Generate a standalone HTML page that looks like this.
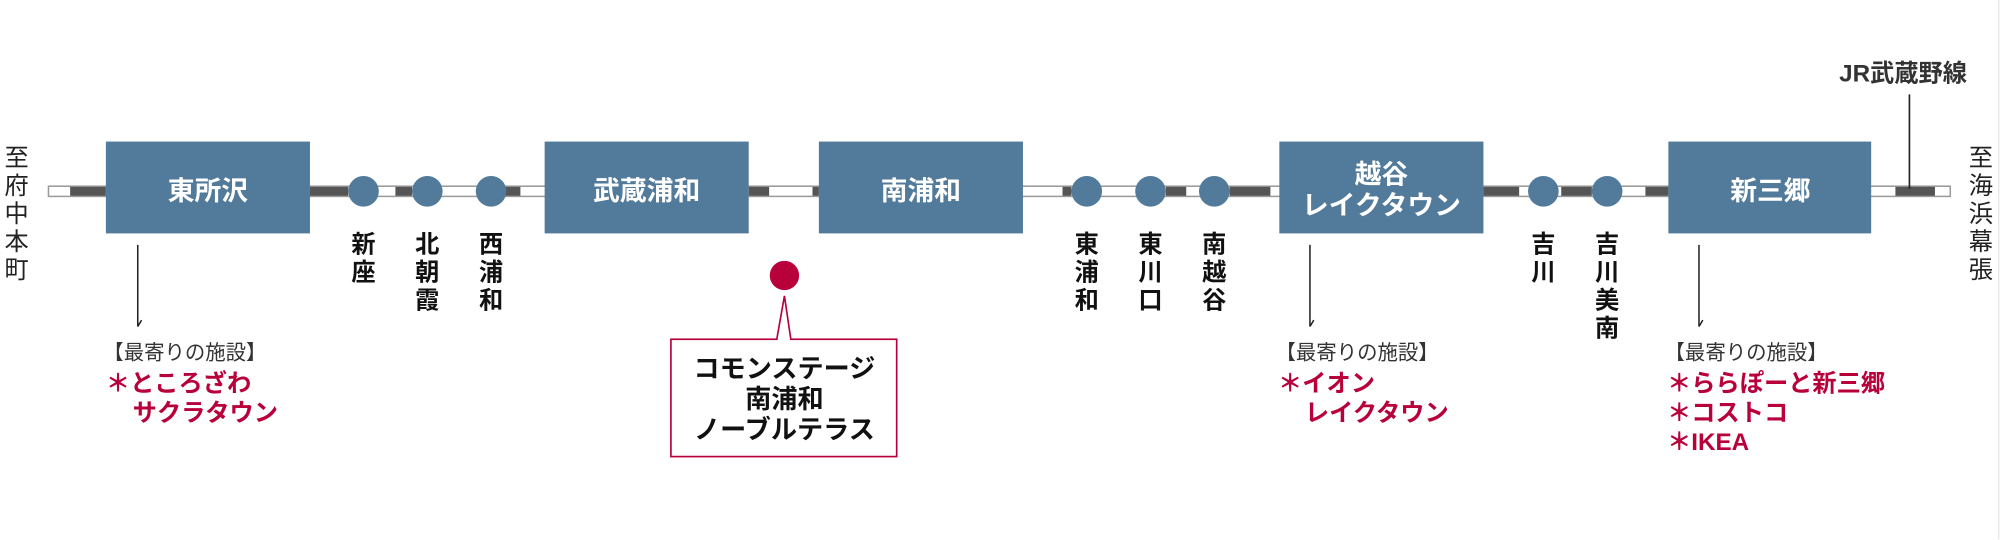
<!DOCTYPE html>
<html><head><meta charset="utf-8"><style>
html,body{margin:0;padding:0;background:#fff;}
svg{display:block;}
text{font-family:"Liberation Sans","Noto Sans CJK JP",sans-serif;}
</style></head><body>
<svg width="2000" height="540" viewBox="0 0 1568 423.4" preserveAspectRatio="none" xmlns="http://www.w3.org/2000/svg">
<rect x="0" y="0" width="1568" height="423.4" fill="#fff"/>
<line x1="1567" y1="0" x2="1567" y2="423" stroke="#e6e6e6" stroke-width="1"/>
<!-- track -->
<rect x="38" y="146" width="1491" height="8" fill="#fff" stroke="#9a9a9a" stroke-width="1.2"/>
<g fill="#555">
<rect x="55" y="146.5" width="28" height="7"/>
<rect x="243" y="146.5" width="30" height="7"/>
<rect x="310" y="146.5" width="13" height="7"/>
<rect x="396" y="146.5" width="12" height="7"/>
<rect x="587" y="146.5" width="16" height="7"/>
<rect x="637" y="146.5" width="5" height="7"/>
<rect x="833" y="146.5" width="7" height="7"/>
<rect x="914" y="146.5" width="16" height="7"/>
<rect x="964" y="146.5" width="32" height="7"/>
<rect x="1163" y="146.5" width="28" height="7"/>
<rect x="1224" y="146.5" width="24" height="7"/>
<rect x="1290" y="146.5" width="18" height="7"/>
<rect x="1486" y="146.5" width="31" height="7"/>
</g>
<!-- boxes -->
<g fill="#527a9a">
<rect x="83" y="111" width="160" height="72"/>
<rect x="427" y="111" width="160" height="72"/>
<rect x="642" y="111" width="160" height="72"/>
<rect x="1003" y="111" width="160" height="72"/>
<rect x="1308" y="111" width="159" height="72"/>
<circle cx="285" cy="150" r="12"/><circle cx="335" cy="150" r="12"/><circle cx="385" cy="150" r="12"/>
<circle cx="852" cy="150" r="12"/><circle cx="902" cy="150" r="12"/><circle cx="952" cy="150" r="12"/>
<circle cx="1210" cy="150" r="12"/><circle cx="1260" cy="150" r="12"/>
</g>
<g fill="#fff" font-size="21" font-weight="bold" text-anchor="middle">
<text x="163" y="157">東所沢</text>
<text x="507" y="157">武蔵浦和</text>
<text x="722" y="157">南浦和</text>
<text x="1083" y="144">越谷</text>
<text x="1083" y="168">レイクタウン</text>
<text x="1388" y="157">新三郷</text>
</g>
<!-- vertical station labels -->
<g fill="#111" font-size="19" font-weight="bold" text-anchor="middle">
<text x="285" y="198">新</text><text x="285" y="220">座</text>
<text x="335" y="198">北</text><text x="335" y="220">朝</text><text x="335" y="242">霞</text>
<text x="385" y="198">西</text><text x="385" y="220">浦</text><text x="385" y="242">和</text>
<text x="852" y="198">東</text><text x="852" y="220">浦</text><text x="852" y="242">和</text>
<text x="902" y="198">東</text><text x="902" y="220">川</text><text x="902" y="242">口</text>
<text x="952" y="198">南</text><text x="952" y="220">越</text><text x="952" y="242">谷</text>
<text x="1210" y="198">吉</text><text x="1210" y="220">川</text>
<text x="1260" y="198">吉</text><text x="1260" y="220">川</text><text x="1260" y="242">美</text><text x="1260" y="264">南</text>
</g>
<g fill="#222" font-size="19" text-anchor="middle">
<text x="13" y="130">至</text><text x="13" y="152">府</text><text x="13" y="174">中</text><text x="13" y="196">本</text><text x="13" y="218">町</text>
<text x="1553" y="130">至</text><text x="1553" y="152">海</text><text x="1553" y="174">浜</text><text x="1553" y="196">幕</text><text x="1553" y="218">張</text>
</g>
<text x="1492" y="64" fill="#333" font-size="19" font-weight="bold" text-anchor="middle">JR武蔵野線</text>
<line x1="1497" y1="74" x2="1497" y2="148" stroke="#222" stroke-width="1.3"/>
<!-- arrows -->
<g stroke="#222" stroke-width="1.2" fill="none">
<line x1="108" y1="192" x2="108" y2="256"/><line x1="108" y1="256" x2="111" y2="251"/>
<line x1="1027" y1="192" x2="1027" y2="256"/><line x1="1027" y1="256" x2="1030" y2="251"/>
<line x1="1332" y1="192" x2="1332" y2="256"/><line x1="1332" y1="256" x2="1335" y2="251"/>
</g>
<g fill="#333" font-size="16">
<text x="81" y="282">【最寄りの施設】</text>
<text x="1000" y="282">【最寄りの施設】</text>
<text x="1305" y="282">【最寄りの施設】</text>
</g>
<g fill="#b8003a" font-size="19" font-weight="bold">
<text x="83" y="307">＊ところざわ</text>
<text x="104" y="330">サクラタウン</text>
<text x="1002" y="307">＊イオン</text>
<text x="1023" y="330">レイクタウン</text>
<text x="1307" y="307">＊ららぽーと新三郷</text>
<text x="1307" y="330">＊コストコ</text>
<text x="1307" y="353">＊IKEA</text>
</g>
<!-- callout -->
<circle cx="615" cy="216" r="11.5" fill="#b8003a"/>
<path d="M609 266 L615 232 L620 266" fill="#fff" stroke="#b8003a" stroke-width="1.3"/>
<rect x="526" y="266" width="177" height="92" fill="#fff" stroke="#b8003a" stroke-width="1.3"/>
<line x1="609.7" y1="266" x2="619.3" y2="266" stroke="#fff" stroke-width="2"/>
<g fill="#111" font-size="20.5" font-weight="bold" text-anchor="middle">
<text x="615" y="296">コモンステージ</text>
<text x="615" y="320">南浦和</text>
<text x="615" y="344">ノーブルテラス</text>
</g>
</svg>
</body></html>
